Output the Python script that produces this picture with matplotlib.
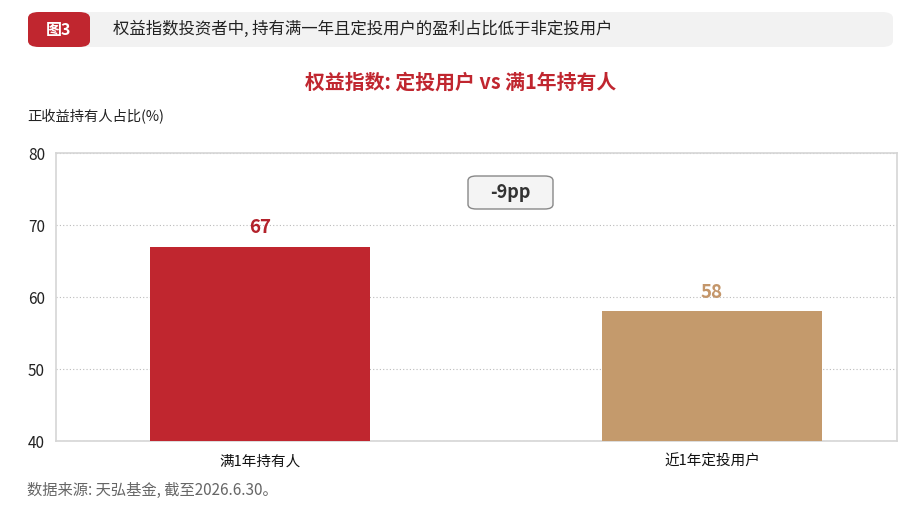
import matplotlib
matplotlib.use('Agg')
import matplotlib.pyplot as plt
from matplotlib.patches import FancyBboxPatch

plt.rcParams['font.family'] = ['Noto Sans CJK SC', 'DejaVu Sans']

# 数据
categories = ['满1年持有人', '近1年定投用户']
values = [67, 58]
bar_colors = ['#C0262F', '#C49A6C']
label_colors = ['#B3222B', '#C4966A']
diff_text = '-9pp'

fig = plt.figure(figsize=(9.21, 5.13), dpi=100)
W, H = 921, 513

# 顶部标题栏
fig.patches.append(FancyBboxPatch((28 / W, 1 - 47 / H), 865 / W, 35 / H,
                                  boxstyle='round,pad=0,rounding_size=0.012',
                                  transform=fig.transFigure, fc='#F2F2F2', ec='none'))
fig.patches.append(FancyBboxPatch((28 / W, 1 - 47 / H), 62 / W, 35 / H,
                                  boxstyle='round,pad=0,rounding_size=0.012',
                                  transform=fig.transFigure, fc='#C0262F', ec='none'))
fig.text(59 / W, 1 - 29.5 / H, '图3', color='white', fontsize=11.5, fontweight='bold',
         ha='center', va='center')
fig.text(113 / W, 1 - 29.5 / H, '权益指数投资者中, 持有满一年且定投用户的盈利占比低于非定投用户',
         color='#222222', fontsize=11.8, ha='left', va='center')

fig.text(461 / W, 1 - 82 / H, '权益指数: 定投用户 vs 满1年持有人', color='#C0262F',
         fontsize=14.3, fontweight='bold', ha='center', va='center')
fig.text(27 / W, 1 - 117 / H, '正收益持有人占比(%)', color='#222222', fontsize=10.3,
         ha='left', va='center')
fig.text(27 / W, 1 - 490 / H, '数据来源: 天弘基金, 截至2026.6.30。', color='#666666',
         fontsize=11, ha='left', va='center')

# 图表区
ax = fig.add_axes([56 / W, 1 - 441 / H, 841 / W, 288 / H])
x = range(len(categories))
bars = ax.bar(x, values, width=0.487, color=bar_colors, zorder=3)
ax.set_ylim(40, 80)
ax.set_xlim(-0.451, 1.409)
ax.set_yticks([40, 50, 60, 70, 80])
ax.set_xticks(list(x))
ax.set_xticklabels(categories)
ax.tick_params(axis='both', length=0, labelsize=11, colors='#222222')
ax.tick_params(axis='x', pad=10)
ax.tick_params(axis='y', pad=8)
for lab in ax.get_xticklabels():
    lab.set_fontsize(10.5)
    lab.set_color('#111111')
ax.yaxis.grid(True, linestyle=(0, (1, 2)), color='#BBBBBB', linewidth=0.8, zorder=0)
for s in ax.spines.values():
    s.set_color('#D5D5D5')
    s.set_linewidth(1.2)

for b, v, c in zip(bars, values, label_colors):
    ax.text(b.get_x() + b.get_width() / 2, v + 1.3, str(v), color=c, fontsize=13.5,
            fontweight='bold', ha='center', va='bottom', zorder=4)

# 差值标注框
fig.patches.append(FancyBboxPatch((468 / W, 1 - 209 / H), 85 / W, 33 / H,
                                  boxstyle='round,pad=0,rounding_size=0.009',
                                  transform=fig.transFigure, fc='#F4F4F4',
                                  ec='#888888', lw=1.0, zorder=5))
fig.text(510.5 / W, 1 - 193 / H, diff_text, fontsize=13, fontweight='bold',
         color='#333333', ha='center', va='center', zorder=6)

fig.savefig('out.png', dpi=100)
